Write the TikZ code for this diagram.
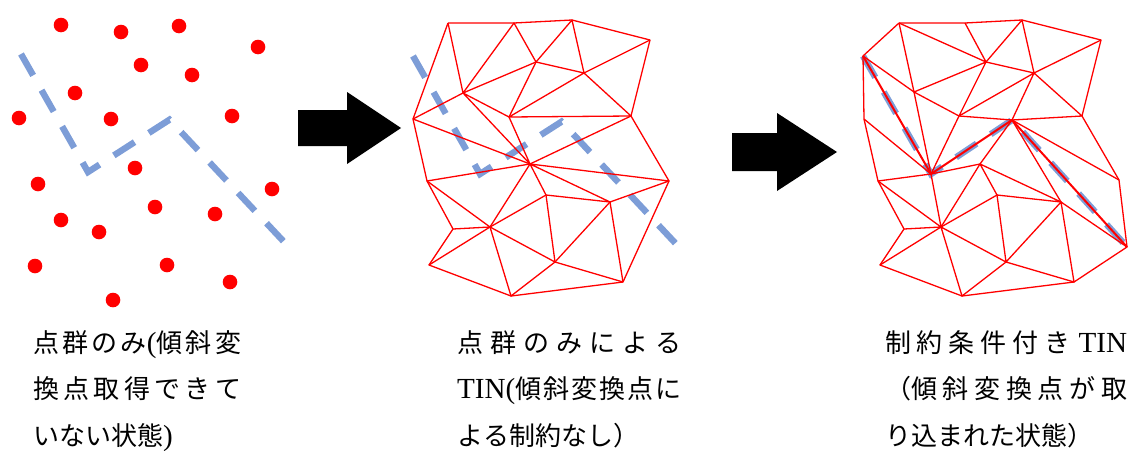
\documentclass[tikz,border=0pt]{standalone}
\usepackage{fontspec}
\setmainfont{Noto Sans CJK JP}
\newfontfamily\latinfont[Scale=1.12]{Liberation Serif}
\XeTeXlinebreaklocale "ja"
\XeTeXlinebreakskip=0pt plus 6pt
\definecolor{pointred}{RGB}{255,0,0}
\definecolor{breakblue}{RGB}{125,157,215}
\tikzset{
  pointdot/.style={circle,fill=pointred,inner sep=0pt,minimum size=14.6pt},
  tinedge/.style={draw=pointred,line width=1.3pt,line join=round},
  fixedge/.style={draw=pointred,line width=2pt},
  breakline/.style={draw=breakblue,line width=6.4pt,dash pattern=on 24.6pt off 17pt},
  bigarrow/.style={fill=black},
  caption/.style={anchor=north west,inner sep=0pt,align=justify,font=\fontsize{26}{46.5}\selectfont}
}
\begin{document}
\begin{tikzpicture}[x=1pt,y=-1pt]
    \useasboundingbox (0,0) rectangle (1129,450);

    \node[pointdot] (p1) at (61,25) {};
    \node[pointdot] (p2) at (121,32) {};
    \node[pointdot] (p3) at (179,26) {};
    \node[pointdot] (p4) at (258,47) {};
    \node[pointdot] (p5) at (141,65) {};
    \node[pointdot] (p6) at (192,75) {};
    \node[pointdot] (p7) at (75,93) {};
    \node[pointdot] (p8) at (19,118) {};
    \node[pointdot] (p9) at (111,119) {};
    \node[pointdot] (p10) at (232,116) {};
    \node[pointdot] (p11) at (135,168) {};
    \node[pointdot] (p12) at (38,184) {};
    \node[pointdot] (p13) at (272,189) {};
    \node[pointdot] (p14) at (155,207) {};
    \node[pointdot] (p15) at (215,214) {};
    \node[pointdot] (p16) at (61,220) {};
    \node[pointdot] (p17) at (99,232) {};
    \node[pointdot] (p18) at (35,266) {};
    \node[pointdot] (p19) at (167,265) {};
    \node[pointdot] (p20) at (230,282) {};
    \node[pointdot] (p21) at (113,300) {};

    \coordinate (la) at (21,54);
    \coordinate (lb) at (88,172);
    \coordinate (lc) at (169.5,119.7);
    \coordinate (ld) at (286,244);
    \draw[breakline] (la) -- (lb) -- (lc) -- (ld);

    \fill[bigarrow] (298,110) -- (347,110) -- (347,92) -- (401,128) -- (347,164) -- (347,146) -- (298,146) -- cycle;

    \coordinate (ma) at (448,23);
    \coordinate (mb) at (514,23);
    \coordinate (mc) at (572,20);
    \coordinate (md) at (650,40);
    \coordinate (me) at (536,62);
    \coordinate (mf) at (584,73);
    \coordinate (mg) at (463,93);
    \coordinate (mh) at (413,119);
    \coordinate (mi) at (509,117);
    \coordinate (mj) at (631,116);
    \coordinate (mk) at (530,164);
    \coordinate (ml) at (669,181);
    \coordinate (mm) at (427,181);
    \coordinate (mn) at (546,195);
    \coordinate (mo) at (610,202);
    \coordinate (mp) at (490,227);
    \coordinate (mq) at (453,229);
    \coordinate (mr) at (555,262);
    \coordinate (ms) at (429,265);
    \coordinate (mt) at (623,282);
    \coordinate (mu) at (511,296);

    \coordinate (na) at (413,56);
    \coordinate (nb) at (480,174);
    \coordinate (nc) at (561.5,121.7);
    \coordinate (nd) at (678,246);
    \draw[breakline] (na) -- (nb) -- (nc) -- (nd);

    \draw[tinedge] (ma) -- (mb) -- (mc) -- (md) -- (mj) -- (ml) -- (mt) -- (mu) -- (ms) -- (mq) -- (mm) -- (mh) -- (ma);
    \draw[tinedge] (ma) -- (mg) -- (mb) -- (me) -- (mc) -- (mf) -- (md);
    \draw[tinedge] (mh) -- (mg) -- (me) -- (mf) -- (mj) -- (mi) -- (mf);
    \draw[tinedge] (me) -- (mi) -- (mg) -- (mk) -- (mi);
    \draw[tinedge] (mh) -- (mk) -- (mj);
    \draw[tinedge] (mm) -- (mk) -- (ml) -- (mo) -- (mk) -- (mn) -- (mo) -- (mt);
    \draw[tinedge] (mm) -- (mp) -- (mk);
    \draw[tinedge] (mq) -- (mp) -- (ms);
    \draw[tinedge] (mn) -- (mp) -- (mu) -- (mr) -- (mt);
    \draw[tinedge] (mp) -- (mr) -- (mn);
    \draw[tinedge] (mr) -- (mo);

    \fill[bigarrow] (732,133) -- (777,133) -- (777,113) -- (837,152) -- (777,191) -- (777,171) -- (732,171) -- cycle;

    \coordinate (ra) at (899,23);
    \coordinate (rb) at (965,23);
    \coordinate (rc) at (1022,20);
    \coordinate (rd) at (1101,40);
    \coordinate (re) at (863,56);
    \coordinate (rf) at (986,62);
    \coordinate (rg) at (1034,73);
    \coordinate (rh) at (914,92);
    \coordinate (ri) at (864,119);
    \coordinate (rj) at (959,116);
    \coordinate (rk) at (1012,120);
    \coordinate (rl) at (1082,116);
    \coordinate (rm) at (931,174);
    \coordinate (rn) at (980,164);
    \coordinate (ro) at (1119,180);
    \coordinate (rp) at (878,181);
    \coordinate (rq) at (997,195);
    \coordinate (rr) at (1061,202);
    \coordinate (rs) at (941,227);
    \coordinate (rt) at (904,229);
    \coordinate (ru) at (1127,247);
    \coordinate (rv) at (1006,262);
    \coordinate (rw) at (880,265);
    \coordinate (rx) at (1074,282);
    \coordinate (ry) at (962,296);

    \draw[breakline] (re) -- (rm) -- (rk) -- (ru);
    \draw[fixedge] (re) -- (rm) -- (rk) -- (ru);

    \draw[tinedge] (ra) -- (rb) -- (rc) -- (rd) -- (rl) -- (ro) -- (ru) -- (rx) -- (ry) -- (rw) -- (rt) -- (rp) -- (ri) -- (re) -- (ra);
    \draw[tinedge] (ra) -- (rf) -- (rb);
    \draw[tinedge] (rf) -- (rc) -- (rg) -- (rd);
    \draw[tinedge] (rf) -- (rg) -- (rl) -- (rk) -- (rg) -- (rj) -- (rf) -- (rh) -- (ra);
    \draw[tinedge] (re) -- (rh) -- (rj) -- (rk);
    \draw[tinedge] (ri) -- (rm) -- (rh);
    \draw[tinedge] (rj) -- (rm) -- (rn) -- (rk) -- (rr) -- (ru);
    \draw[tinedge] (rk) -- (ro);
    \draw[tinedge] (rp) -- (rm) -- (rs) -- (rn) -- (rq) -- (rr) -- (rn);
    \draw[tinedge] (rp) -- (rs) -- (rt);
    \draw[tinedge] (rw) -- (rs) -- (rq) -- (rv) -- (rr) -- (rx) -- (rv) -- (ry) -- (rs) -- (rv);

    \node[caption,text width=208pt] (capa) at (33,330) {点群のみ{\latinfont (}傾斜変\break 換点取得できて\break いない状態{\latinfont )}};
    \node[caption,text width=224pt] (capb) at (457,330) {点群のみによる\break {\latinfont TIN(}傾斜変換点に\break よる制約なし）};
    \node[caption,text width=242pt] (capc) at (885,330) {制約条件付き {\latinfont TIN}\break （傾斜変換点が取\break り込まれた状態）};
\end{tikzpicture}
\end{document}
